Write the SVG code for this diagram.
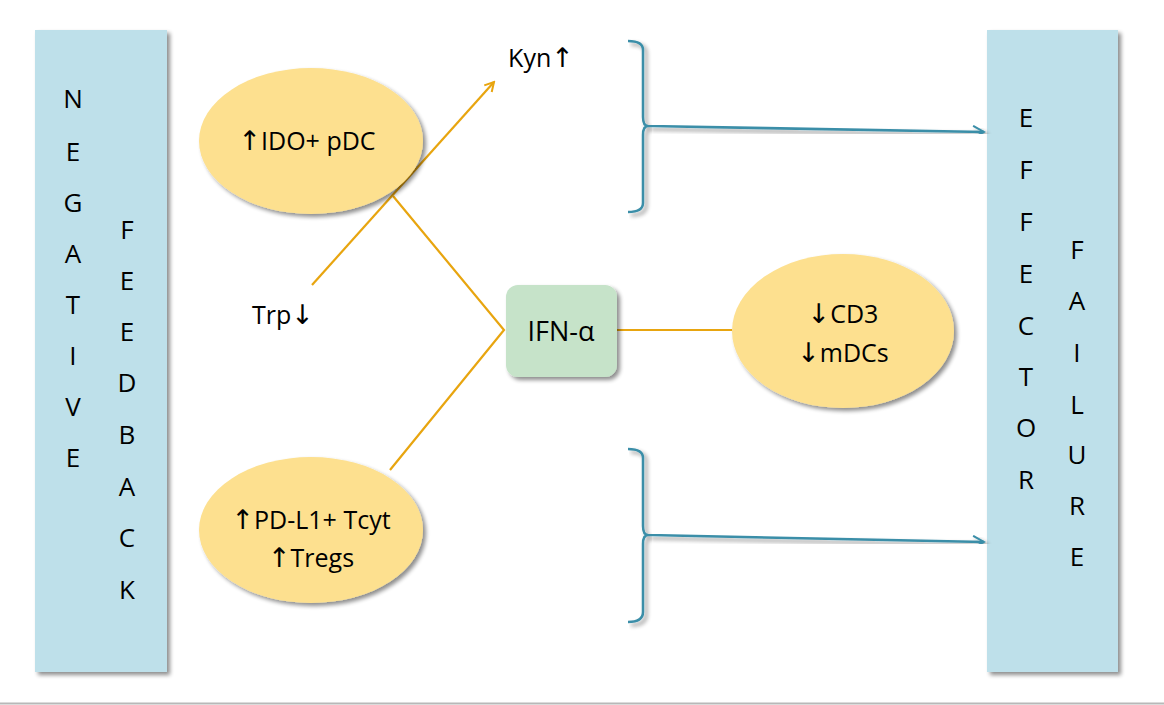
<svg xmlns="http://www.w3.org/2000/svg" width="1164" height="705" viewBox="0 0 1164 705">
<defs>
<filter id="sh" x="-10%" y="-10%" width="130%" height="130%">
<feGaussianBlur in="SourceAlpha" stdDeviation="2"/>
<feOffset dx="3" dy="3" result="b"/>
<feComponentTransfer><feFuncA type="linear" slope="0.45"/></feComponentTransfer>
<feMerge><feMergeNode/><feMergeNode in="SourceGraphic"/></feMerge>
</filter>
<marker id="ao" viewBox="0 0 12 12" refX="10" refY="6" markerWidth="12" markerHeight="12" markerUnits="userSpaceOnUse" orient="auto">
<path d="M1,1 L10,6 L1,11" fill="none" stroke="#e8a50f" stroke-width="2"/>
</marker>
<marker id="ab" viewBox="0 0 14 14" refX="12" refY="7" markerWidth="14" markerHeight="14" markerUnits="userSpaceOnUse" orient="auto">
<path d="M1,1 L12,7 L1,13" fill="none" stroke="#3a8ea8" stroke-width="2"/>
</marker>
</defs>
<style>
.bar{fill:#bee0ea;filter:url(#sh)}
.ell{fill:#fde08f;filter:url(#sh)}
.t{font-family:"Open Sans","Noto Sans",sans-serif;fill:#000;text-anchor:middle}
.lt{font-size:26px}
.nt{font-size:25px}
.ar{font-family:"DejaVu Sans",sans-serif;font-size:27px;fill:#000}
.or{stroke:#e8a50f;stroke-width:2.2;fill:none}
.bl{stroke:#3a8ea8;stroke-width:2.5;fill:none;filter:url(#sh)}
</style>
<rect width="1164" height="705" fill="#fff"/>
<line x1="0" y1="703.5" x2="1164" y2="703.5" stroke="#b8b8b8" stroke-width="2"/>

<g id="negative-feedback">
<rect class="bar" x="35" y="30" width="132" height="642"/>
<g class="t lt">
<text x="73" y="108">N</text><text x="73" y="161">E</text><text x="73" y="212">G</text><text x="73" y="263">A</text><text x="73" y="314">T</text><text x="73" y="365">I</text><text x="73" y="416">V</text><text x="73" y="467">E</text>
<text x="127" y="239">F</text><text x="127" y="290">E</text><text x="127" y="341">E</text><text x="127" y="392">D</text><text x="127" y="444">B</text><text x="127" y="496">A</text><text x="127" y="547">C</text><text x="127" y="599">K</text>
</g>
</g>

<g id="effector-failure">
<rect class="bar" x="987" y="30" width="131" height="642"/>
<g class="t lt">
<text x="1026" y="127">E</text><text x="1026" y="179">F</text><text x="1026" y="231">F</text><text x="1026" y="283">E</text><text x="1026" y="335">C</text><text x="1026" y="386">T</text><text x="1026" y="437">O</text><text x="1026" y="489">R</text>
<text x="1077" y="259">F</text><text x="1077" y="310">A</text><text x="1077" y="362">I</text><text x="1077" y="414">L</text><text x="1077" y="464">U</text><text x="1077" y="515">R</text><text x="1077" y="566">E</text>
</g>
</g>

<g id="connectors">
<line class="or" x1="312" y1="285" x2="494" y2="82" marker-end="url(#ao)"/>
<polyline class="or" points="393,196 504,330 390,470"/>
<line class="or" x1="617" y1="330" x2="732" y2="330"/>
<path class="bl" d="M628,41 Q643,41 643,50 L643,117 Q643,126 648,126 Q643,126 643,135 L643,203 Q643,212 628,212"/>
<line class="bl" x1="648" y1="126" x2="984" y2="132" marker-end="url(#ab)"/>
<path class="bl" d="M628,449 Q643,449 643,458 L643,526 Q643,535 648,535 Q643,535 643,544 L643,612 Q643,622 628,622"/>
<line class="bl" x1="648" y1="535" x2="984" y2="542" marker-end="url(#ab)"/>
</g>

<g id="ido-pdc">
<ellipse class="ell" cx="311" cy="141" rx="112" ry="73"/>
<text class="t nt" x="307" y="150"><tspan class="ar">↑</tspan>IDO+ pDC</text>
</g>

<g id="pdl1-tregs">
<ellipse class="ell" cx="311" cy="530" rx="112" ry="73"/>
<text class="t nt" x="311" y="529"><tspan class="ar">↑</tspan>PD-L1+ Tcyt</text>
<text class="t nt" x="311" y="567"><tspan class="ar">↑</tspan>Tregs</text>
</g>

<g id="cd3-mdcs">
<ellipse class="ell" cx="843" cy="331" rx="111" ry="77"/>
<text class="t nt" x="843" y="323"><tspan class="ar">↓</tspan>CD3</text>
<text class="t nt" x="843" y="362"><tspan class="ar">↓</tspan>mDCs</text>
</g>

<g id="ifn-alpha">
<rect x="506" y="285" width="111" height="92" rx="12" fill="#c6e3c9" filter="url(#sh)"/>
<text class="t" x="561" y="341" font-size="27">IFN-α</text>
</g>

<g id="kyn">
<text class="t nt" x="541" y="67">Kyn<tspan class="ar">↑</tspan></text>
</g>
<g id="trp">
<text class="t nt" x="283" y="324">Trp<tspan class="ar">↓</tspan></text>
</g>
</svg>
